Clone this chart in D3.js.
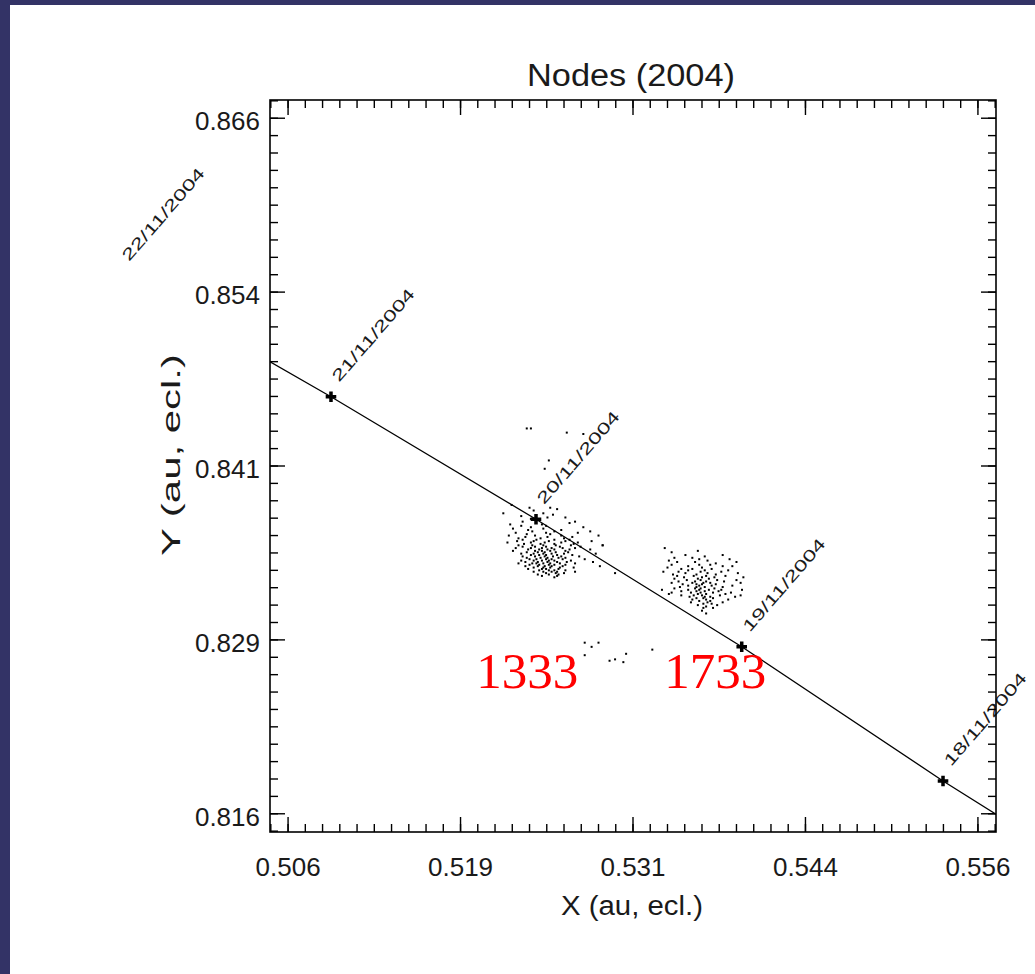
<!DOCTYPE html>
<html><head><meta charset="utf-8">
<script src="https://cdn.jsdelivr.net/npm/d3@7"></script>
<style>html,body{margin:0;padding:0;background:#fff;overflow:hidden}svg{display:block}</style>
</head><body>
<svg id="chart" width="1035" height="974"></svg>
<script>
// ---------- data ----------
const title = "Nodes (2004)";
const xTitle = "X (au, ecl.)";
const yTitle = "Y (au, ecl.)";
const xDomain = [0.50469, 0.55731];
const yDomain = [0.81469, 0.86731];
const xTicks = [0.506, 0.5185, 0.531, 0.5435, 0.556];
const xTickLabels = ["0.506", "0.519", "0.531", "0.544", "0.556"];
const yTicks = [0.816, 0.8285, 0.841, 0.8535, 0.866];
const yTickLabels = ["0.816", "0.829", "0.841", "0.854", "0.866"];
const minorStep = 0.00125;

const nodeDates = ["22/11/2004", "21/11/2004", "20/11/2004", "19/11/2004", "18/11/2004", "17/11/2004"];
const nodeX = [0.49389, 0.50911, 0.52397, 0.53888, 0.55347, 0.56796];
const nodeY = [0.85466, 0.84598, 0.83717, 0.82801, 0.81836, 0.80930];
const nodeLabelled = [true, true, true, true, true, false];

const annotations = ["1333", "1733"];
const annotationX = [0.51963, 0.53326];
const annotationY = [0.82503, 0.82503];

// 1333 trail dust: rows of [y, [x...]]
const cloud1333 = [
[0.8382,[0.5222]],
[0.8380,[0.5235,0.5250]],
[0.8379,[0.5255]],
[0.8378,[0.5238]],
[0.8376,[0.5216,0.5245]],
[0.8375,[0.5252]],
[0.8374,[0.5229]],
[0.8373,[0.5248,0.5261]],
[0.8372,[0.5236]],
[0.8371,[0.5240]],
[0.8370,[0.5230,0.5268]],
[0.8369,[0.5264]],
[0.8368,[0.5221,0.5244]],
[0.8367,[0.5229,0.5247]],
[0.8366,[0.5236,0.5274]],
[0.8365,[0.5223,0.5245]],
[0.8364,[0.5234,0.5258]],
[0.8363,[0.5237,0.5253,0.5279]],
[0.8362,[0.5225,0.5247,0.5270]],
[0.8361,[0.5233,0.5250]],
[0.8360,[0.5220,0.5239,0.5258,0.5285]],
[0.8359,[0.5232,0.5248,0.5266]],
[0.8358,[0.5227,0.5243,0.5260]],
[0.8357,[0.5230,0.5240,0.5253,0.5264]],
[0.8356,[0.5226,0.5238,0.5249,0.5261,0.5280]],
[0.8355,[0.5219,0.5236,0.5246,0.5258,0.5270]],
[0.8354,[0.5231,0.5243,0.5253,0.5267]],
[0.8353,[0.5227,0.5237,0.5245,0.5254,0.5265,0.5288]],
[0.8352,[0.5230,0.5239,0.5247,0.5257,0.5272]],
[0.8351,[0.5225,0.5236,0.5244,0.5251,0.5259,0.5268]],
[0.8350,[0.5234,0.5242,0.5248,0.5253,0.5264,0.5279]],
[0.8349,[0.5223,0.5239,0.5244,0.5250,0.5261]],
[0.8348,[0.5233,0.5241,0.5246,0.5254,0.5263]],
[0.8347,[0.5229,0.5238,0.5245,0.5251,0.5260,0.5283]],
[0.8346,[0.5236,0.5242,0.5247,0.5255,0.5266]],
[0.8345,[0.5230,0.5239,0.5246,0.5252,0.5258,0.5271]],
[0.8344,[0.5233,0.5243,0.5248,0.5256,0.5261]],
[0.8343,[0.5235,0.5240,0.5247,0.5251,0.5259,0.5275]],
[0.8342,[0.5229,0.5238,0.5244,0.5249,0.5253,0.5265]],
[0.8341,[0.5232,0.5241,0.5248,0.5255,0.5262,0.5281]],
[0.8340,[0.5227,0.5237,0.5240,0.5245,0.5250,0.5257,0.5268]],
[0.8339,[0.5235,0.5242,0.5249,0.5253,0.5261]],
[0.8338,[0.5232,0.5241,0.5246,0.5251,0.5259,0.5286]],
[0.8337,[0.5238,0.5245,0.5250,0.5257,0.5267]],
[0.8336,[0.5234,0.5244,0.5247,0.5256]],
[0.8335,[0.5242,0.5249,0.5253,0.5261]],
[0.8334,[0.5238,0.5245,0.5251,0.5255,0.5268]],
[0.8333,[0.5247,0.5254,0.5260,0.5297]],
[0.8332,[0.5241,0.5249,0.5256]],
[0.8331,[0.5244,0.5255]],
[0.8330,[0.5253]]
];

// 1733 trail dust: rows of [y, [x...]]
const cloud1733 = [
[0.8351,[0.5333]],
[0.8349,[0.5357]],
[0.8348,[0.5338]],
[0.8346,[0.5348,0.5375]],
[0.8345,[0.5362]],
[0.8344,[0.5340,0.5353]],
[0.8343,[0.5358,0.5380]],
[0.8342,[0.5336,0.5364]],
[0.8341,[0.5342,0.5355,0.5385]],
[0.8340,[0.5370]],
[0.8339,[0.5338,0.5358,0.5366]],
[0.8338,[0.5350,0.5375,0.5382]],
[0.8337,[0.5335,0.5360]],
[0.8336,[0.5345,0.5353,0.5367]],
[0.8335,[0.5350,0.5362,0.5379]],
[0.8334,[0.5332,0.5343,0.5359,0.5374]],
[0.8333,[0.5348,0.5364,0.5386]],
[0.8332,[0.5339,0.5356,0.5370]],
[0.8331,[0.5342,0.5354,0.5363,0.5377]],
[0.8330,[0.5347,0.5360,0.5369,0.5390]],
[0.8329,[0.5340,0.5357,0.5365]],
[0.8328,[0.5349,0.5359,0.5371,0.5385]],
[0.8327,[0.5343,0.5355,0.5363,0.5376]],
[0.8326,[0.5338,0.5353,0.5361,0.5366,0.5388]],
[0.8325,[0.5346,0.5356,0.5360,0.5370]],
[0.8324,[0.5350,0.5358,0.5367,0.5382]],
[0.8323,[0.5344,0.5356,0.5362,0.5375]],
[0.8322,[0.5340,0.5355,0.5359,0.5369]],
[0.8321,[0.5331,0.5350,0.5358,0.5365,0.5374,0.5389]],
[0.8320,[0.5345,0.5356,0.5362,0.5372]],
[0.8319,[0.5338,0.5352,0.5359,0.5368,0.5381]],
[0.8318,[0.5336,0.5357,0.5363,0.5377]],
[0.8317,[0.5345,0.5354,0.5360,0.5373,0.5388]],
[0.8316,[0.5351,0.5362,0.5366,0.5384]],
[0.8315,[0.5356,0.5361,0.5368]],
[0.8314,[0.5353,0.5363,0.5379]],
[0.8313,[0.5358,0.5366]],
[0.8312,[0.5352,0.5364,0.5375]],
[0.8311,[0.5361,0.5367]],
[0.8310,[0.5357,0.5371]],
[0.8309,[0.5363]],
[0.8308,[0.5361,0.5368]],
[0.8306,[0.5360]],
[0.8304,[0.5363]]
];

// isolated grains
const strayX = [0.5233, 0.5236, 0.5262, 0.5274, 0.5249, 0.5246, 0.5288, 0.5275, 0.5280, 0.5285, 0.5275, 0.5293, 0.5297, 0.5305, 0.5303, 0.5324];
const strayY = [0.8437, 0.8437, 0.8434, 0.8433, 0.8414, 0.8408, 0.8353, 0.8283, 0.8280, 0.8283, 0.8274, 0.8270, 0.8271, 0.8275, 0.8269, 0.8278];

// ---------- drawing ----------
const W = 1035, H = 974;
const plot = {left: 270, right: 996, top: 100, bottom: 832};
const svg = d3.select("#chart");
const x = d3.scaleLinear().domain(xDomain).range([plot.left, plot.right]);
const y = d3.scaleLinear().domain(yDomain).range([plot.bottom, plot.top]);
const FONT = "'Liberation Sans', Arial, sans-serif";
const INK = "#1a1a1a";

svg.append("rect").attr("width", W).attr("height", H).attr("fill", "#fff");
// page border (slide frame)
svg.append("rect").attr("x", 0).attr("y", 0).attr("width", W).attr("height", 5).attr("fill", "#333366");
svg.append("rect").attr("x", 0).attr("y", 0).attr("width", 10).attr("height", H).attr("fill", "#333366");

svg.append("defs").append("clipPath").attr("id", "clip")
  .append("rect").attr("x", plot.left).attr("y", plot.top)
  .attr("width", plot.right - plot.left).attr("height", plot.bottom - plot.top);

// dust dots
const dots = [];
cloud1333.forEach(([yy, xs]) => xs.forEach(xx => dots.push([xx, yy])));
cloud1733.forEach(([yy, xs]) => xs.forEach(xx => dots.push([xx, yy])));
strayX.forEach((xx, i) => dots.push([xx, strayY[i]]));
svg.append("g").attr("clip-path", "url(#clip)").selectAll("rect").data(dots).join("rect")
  .attr("x", d => x(d[0]) - 1).attr("y", d => y(d[1]) - 1)
  .attr("width", 2).attr("height", 2).attr("fill", "#000");

// node line
const nodes = nodeX.map((v, i) => ({x: v, y: nodeY[i], date: nodeDates[i], lab: nodeLabelled[i]}));
const gLine = svg.append("g").attr("clip-path", "url(#clip)");
gLine.append("path").datum(nodes)
  .attr("d", d3.line().x(d => x(d.x)).y(d => y(d.y)))
  .attr("fill", "none").attr("stroke", "#000").attr("stroke-width", 1.3);
gLine.selectAll("path.mk").data(nodes).join("path").attr("class", "mk")
  .attr("transform", d => `translate(${x(d.x)},${y(d.y)})`)
  .attr("d", d3.symbol().type(d3.symbolCross).size(62))
  .attr("fill", "#000");

// date labels
svg.append("g").selectAll("text").data(nodes.filter(d => d.lab)).join("text")
  .attr("transform", d => `translate(${x(d.x) + 8},${y(d.y) - 14}) rotate(-49)`)
  .attr("font-family", FONT).attr("font-size", 16).attr("fill", INK)
  .attr("textLength", 117).attr("lengthAdjust", "spacingAndGlyphs")
  .text(d => d.date);

// frame
svg.append("rect").attr("x", plot.left).attr("y", plot.top)
  .attr("width", plot.right - plot.left).attr("height", plot.bottom - plot.top)
  .attr("fill", "none").attr("stroke", "#000").attr("stroke-width", 1.6);

// ticks
const MAJ = 15, MIN = 8;
const xMinorVals = d3.range(-20, 60).map(k => 0.506 + k * minorStep).filter(v => v >= xDomain[0] && v <= xDomain[1]);
const yMinorVals = d3.range(-20, 60).map(k => 0.816 + k * minorStep).filter(v => v >= yDomain[0] && v <= yDomain[1]);
const gt = svg.append("g").attr("stroke", "#000").attr("stroke-width", 1.4);
function tickX(v, len) {
  gt.append("line").attr("x1", x(v)).attr("x2", x(v)).attr("y1", plot.bottom).attr("y2", plot.bottom - len);
  gt.append("line").attr("x1", x(v)).attr("x2", x(v)).attr("y1", plot.top).attr("y2", plot.top + len);
}
function tickY(v, len) {
  gt.append("line").attr("y1", y(v)).attr("y2", y(v)).attr("x1", plot.left).attr("x2", plot.left + len);
  gt.append("line").attr("y1", y(v)).attr("y2", y(v)).attr("x1", plot.right).attr("x2", plot.right - len);
}
xMinorVals.forEach(v => tickX(v, MIN));
yMinorVals.forEach(v => tickY(v, MIN));
xTicks.forEach(v => tickX(v, MAJ));
yTicks.forEach(v => tickY(v, MAJ));

// tick labels
svg.append("g").selectAll("text").data(xTicks).join("text")
  .attr("x", d => x(d)).attr("y", 876).attr("text-anchor", "middle")
  .attr("font-family", FONT).attr("font-size", 26).attr("fill", INK)
  .text((d, i) => xTickLabels[i]);
svg.append("g").selectAll("text").data(yTicks).join("text")
  .attr("x", plot.left - 10).attr("y", d => y(d) + 12).attr("text-anchor", "end")
  .attr("font-family", FONT).attr("font-size", 26).attr("fill", INK)
  .text((d, i) => yTickLabels[i]);

// titles
svg.append("text").attr("x", 527).attr("y", 86)
  .attr("font-family", FONT).attr("font-size", 31).attr("fill", INK)
  .attr("textLength", 208).attr("lengthAdjust", "spacingAndGlyphs").text(title);
svg.append("text").attr("x", 561).attr("y", 915)
  .attr("font-family", FONT).attr("font-size", 27).attr("fill", INK)
  .attr("textLength", 142).attr("lengthAdjust", "spacingAndGlyphs").text(xTitle);
svg.append("text").attr("transform", "translate(180,556) rotate(-90)")
  .attr("font-family", FONT).attr("font-size", 25).attr("fill", INK)
  .attr("textLength", 202).attr("lengthAdjust", "spacingAndGlyphs").text(yTitle);

// red annotations
svg.append("g").selectAll("text").data(annotations).join("text")
  .attr("x", (d, i) => x(annotationX[i])).attr("y", (d, i) => y(annotationY[i]))
  .attr("font-family", "'Liberation Serif', 'Times New Roman', serif")
  .attr("font-size", 51).attr("fill", "#ff0000")
  .text(d => d);
</script>
</body></html>
